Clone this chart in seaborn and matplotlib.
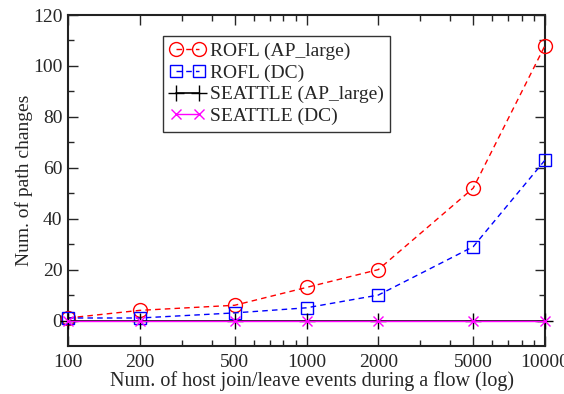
import matplotlib
matplotlib.use("Agg")
import matplotlib.pyplot as plt
import seaborn as sns
import numpy as np
import pandas as pd
from matplotlib.ticker import FixedLocator, NullFormatter

sns.set_style("ticks")
plt.rcParams['font.family'] = ['Liberation Serif', 'DejaVu Serif']

events = [100, 200, 500, 1000, 2000, 5000, 10000]
rofl_ap = [1, 4, 6, 13, 20, 52, 108]
rofl_dc = [1, 1, 3, 5, 10, 29, 63]
seattle_ap = [0, 0, 0, 0, 0, 0, 0]
seattle_dc = [0, 0, 0, 0, 0, 0, 0]
labels = ["ROFL (AP_large)", "ROFL (DC)", "SEATTLE (AP_large)", "SEATTLE (DC)"]
xticklabels = ["100", "200", "500", "1000", "2000", "5000", "10000"]

fig = plt.figure(figsize=(5.64, 3.94), dpi=100)
ax = fig.add_axes([68 / 564, 48 / 394, 477 / 564, 331 / 394])

styles = [
    dict(color="red", ls=(0, (4, 3)), marker="o", ms=10, mfc="none", mew=1.0, lw=1.0),
    dict(color="blue", ls=(0, (4, 3)), marker="s", ms=8, mfc="none", mew=1.0, lw=1.0),
    dict(color="black", ls="-", marker="+", ms=11, mew=1.0, lw=1.2),
    dict(color="magenta", ls="-", marker="x", ms=7, mew=1.0, lw=1.0),
]
series = [rofl_ap, rofl_dc, seattle_ap, seattle_dc]
for ys, lab, st in zip(series, labels, styles):
    df = pd.DataFrame({"x": events, "y": ys})
    sns.lineplot(data=df, x="x", y="y", ax=ax, label=lab, color=st["color"],
                 linestyle=st["ls"], marker=st["marker"], markersize=st["ms"],
                 markerfacecolor=st.get("mfc", st["color"]), markeredgecolor=st["color"],
                 markeredgewidth=st["mew"], linewidth=st["lw"], clip_on=False, zorder=3)

ax.set_xscale("log")
ax.set_xlim(100, 10000)
ax.set_ylim(-10, 120)
ax.xaxis.set_major_locator(FixedLocator(events))
ax.set_xticklabels(xticklabels)
minors = [300, 400, 600, 700, 800, 900, 3000, 4000, 6000, 7000, 8000, 9000]
ax.xaxis.set_minor_locator(FixedLocator(minors))
ax.xaxis.set_minor_formatter(NullFormatter())
ax.yaxis.set_major_locator(FixedLocator([0, 20, 40, 60, 80, 100, 120]))
ax.yaxis.set_minor_locator(FixedLocator([10, 30, 50, 70, 90, 110]))
ax.tick_params(which="both", direction="in", top=True, right=True, labelsize=14, width=1.0)
ax.tick_params(which="major", length=7)
ax.tick_params(which="minor", length=4)
ax.tick_params(axis="x", which="major", pad=5.5)
ax.tick_params(axis="y", which="major", pad=4)
for sp in ax.spines.values():
    sp.set_linewidth(1.5)
    sp.set_color("#222222")

ax.set_xlabel("Num. of host join/leave events during a flow (log)", fontsize=14.5, labelpad=1)
ax.xaxis.set_label_coords(0.511, -0.075)
ax.set_ylabel("Num. of path changes", fontsize=14, labelpad=0)

leg = ax.legend(loc="upper left", bbox_to_anchor=(0.199, 0.937), fontsize=14,
                frameon=True, fancybox=False, edgecolor="black", handlelength=1.8,
                numpoints=2, borderpad=0.35, labelspacing=0.2, handletextpad=0.25,
                borderaxespad=0)
leg.get_frame().set_linewidth(1.0)

fig.savefig("out.png", dpi=100)
